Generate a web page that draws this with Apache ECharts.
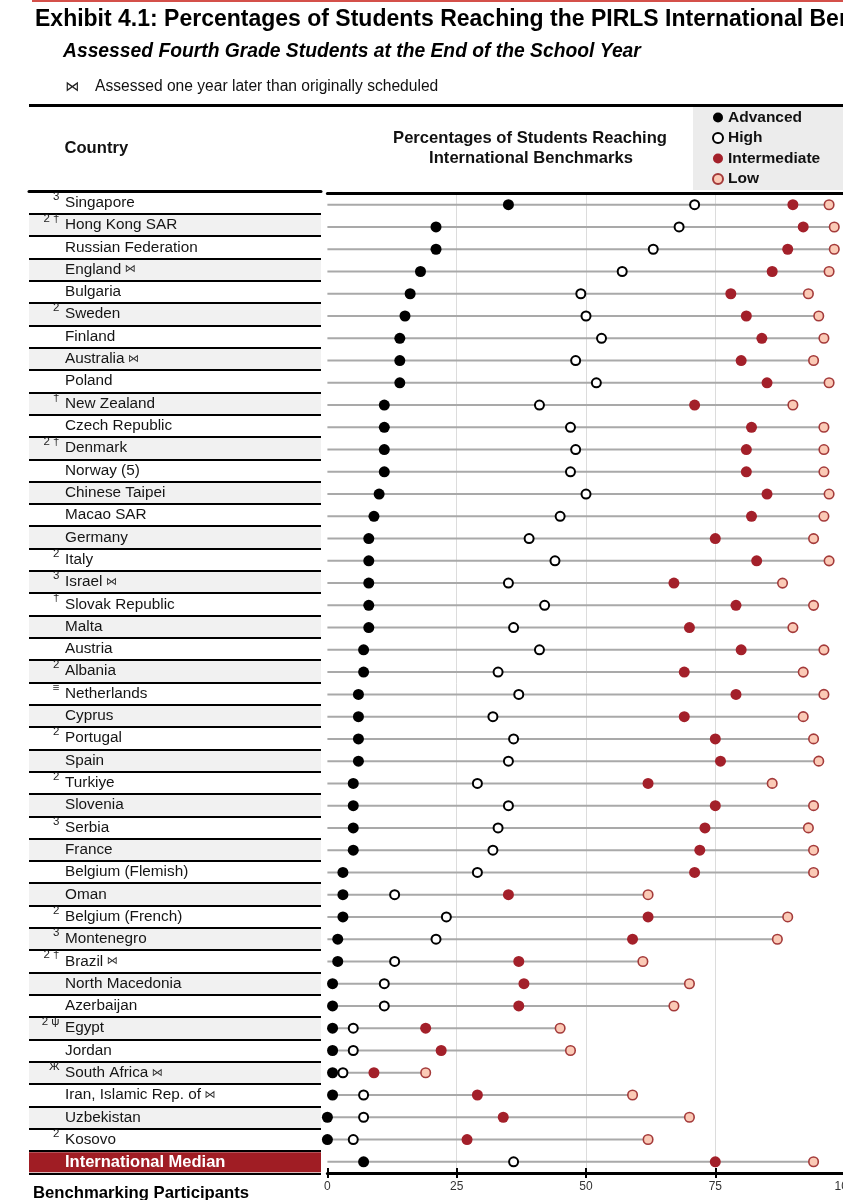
<!DOCTYPE html>
<html><head><meta charset="utf-8">
<script src="https://cdn.jsdelivr.net/npm/echarts@6/dist/echarts.min.js"></script>
<style>html,body{margin:0;padding:0;background:#fff}#c{width:843px;height:1200px}</style>
</head><body><div id="c"></div>
<script>
// ---- data ----
const categories = ['Singapore','Hong Kong SAR','Russian Federation','England','Bulgaria','Sweden','Finland','Australia','Poland','New Zealand','Czech Republic','Denmark','Norway (5)','Chinese Taipei','Macao SAR','Germany','Italy','Israel','Slovak Republic','Malta','Austria','Albania','Netherlands','Cyprus','Portugal','Spain','Turkiye','Slovenia','Serbia','France','Belgium (Flemish)','Oman','Belgium (French)','Montenegro','Brazil','North Macedonia','Azerbaijan','Egypt','Jordan','South Africa','Iran, Islamic Rep. of','Uzbekistan','Kosovo','International Median'];
const notes = ['3','2 †','','','','2','','','','†','','2 †','','','','','2','3','†','','','2','≡','','2','','2','','3','','','','2','3','2 †','','','2 ψ','','Ж','','','2',''];
const delayed = [0,0,0,1,0,0,0,1,0,0,0,0,0,0,0,0,0,1,0,0,0,0,0,0,0,0,0,0,0,0,0,0,0,0,1,0,0,0,0,1,1,0,0,0];
const advanced = [35,21,21,18,16,15,14,14,14,11,11,11,11,10,9,8,8,8,8,8,7,7,6,6,6,6,5,5,5,5,3,3,3,2,2,1,1,1,1,1,1,0,0,7];
const high = [71,68,63,57,49,50,53,48,52,41,47,48,47,50,45,39,44,35,42,36,41,33,37,32,36,35,29,35,33,32,29,13,23,21,13,11,11,5,5,3,7,7,5,36];
const intermediate = [90,92,89,86,78,81,84,80,85,71,82,81,81,85,82,75,83,67,79,70,80,69,79,69,75,76,62,75,73,72,71,35,62,59,37,38,37,19,22,9,29,34,27,75];
const low = [97,98,98,97,93,95,96,94,97,90,96,96,96,97,96,94,97,88,94,90,96,92,96,92,94,95,86,94,93,94,94,62,89,87,61,70,67,45,47,19,59,70,62,94];
const xTicks = [0, 25, 50, 75, 100];
const MEDIAN = 'International Median';

const F = '"Liberation Sans", Arial, Helvetica, sans-serif';
const FF = 'Liberation Sans, Arial, Helvetica, sans-serif';
const chart = echarts.init(document.getElementById('c'), null, {renderer: 'canvas'});

const pairs = arr => arr.map((v, i) => [v, categories[i]]);
const hidden = {axisLine: {show: false}, axisTick: {show: false}, axisLabel: {show: false}, splitLine: {show: false}};

const option = {
  animation: false,
  backgroundColor: '#ffffff',
  textStyle: {fontFamily: FF},
  grid: [
    {left: 29, top: 191.5, width: 292, height: 981.8, outerBoundsMode: 'none', containLabel: false},
    {left: 327.4, top: 193.6, width: 517.2, height: 979.3, outerBoundsMode: 'none', containLabel: false}
  ],
  legend: {
    data: ['Advanced', 'High', 'Intermediate', 'Low'],
    orient: 'vertical', left: 693, top: 107,
    padding: [1.5, 25, 2, 19],
    itemWidth: 10, itemHeight: 10, itemGap: 2.5,
    icon: 'circle', selectedMode: false,
    backgroundColor: '#ececec',
    textStyle: {fontFamily: FF, fontSize: 15.5, fontWeight: 'bold', color: '#111', lineHeight: 18}
  },
  xAxis: [
    Object.assign({gridIndex: 0, type: 'value', min: 0, max: 1, position: 'top'}, hidden,
      {axisLine: {show: true, onZero: false, lineStyle: {color: '#000', width: 3}}}),
    {gridIndex: 1, type: 'value', min: xTicks[0], max: xTicks[xTicks.length - 1], interval: 25, position: 'bottom',
      axisLine: {show: true, onZero: false, lineStyle: {color: '#000', width: 3}},
      axisTick: {show: true, length: 5, lineStyle: {color: '#000', width: 2}},
      axisLabel: {show: true, margin: 8, fontSize: 12, color: '#333', fontFamily: FF},
      splitLine: {show: true, showMinLine: false, lineStyle: {color: '#dcdcdc', width: 1}}},
    {gridIndex: 1, type: 'value', min: xTicks[0], max: xTicks[xTicks.length - 1], interval: 25, position: 'bottom',
      axisLine: {show: false, onZero: false},
      axisTick: {show: true, inside: true, length: 5, lineStyle: {color: '#000', width: 2}},
      axisLabel: {show: false}, splitLine: {show: false}},
    Object.assign({gridIndex: 1, type: 'value', min: 0, max: 100, position: 'top'}, hidden,
      {axisLine: {show: true, onZero: false, lineStyle: {color: '#000', width: 3}}})
  ],
  yAxis: [
    {gridIndex: 0, type: 'category', data: categories, inverse: true, position: 'left',
      axisLine: {show: false}, axisTick: {show: false}, axisLabel: {show: false},
      splitLine: {show: true, interval: 0, lineStyle: {color: '#000', width: 2}},
      splitArea: {show: true, interval: 0, areaStyle: {color: ['#ffffff', '#f1f1f1']}}},
    {gridIndex: 0, type: 'category', data: categories, inverse: true, position: 'left', z: 10,
      axisLine: {show: false}, axisTick: {show: false}, splitLine: {show: false},
      axisLabel: {show: true, inside: true, margin: 36, interval: 0,
        formatter: (v) => {
          const i = categories.indexOf(v);
          if (v === MEDIAN) return '{m|' + v + '}';
          return '{t|' + v + '}' + (delayed[i] ? '{b| ⋈}' : '');
        },
        rich: {
          t: {fontSize: 15.3, color: '#151515', fontFamily: FF, lineHeight: 20},
          b: {fontSize: 11, color: '#333', fontFamily: 'DejaVu Sans', lineHeight: 20},
          m: {fontSize: 16.5, color: '#ffffff', fontWeight: 'bold', fontFamily: FF, lineHeight: 20}
        }}},
    {gridIndex: 0, type: 'category', data: categories, inverse: true, position: 'left', offset: -32, z: 10,
      axisLine: {show: false}, axisTick: {show: false}, splitLine: {show: false},
      axisLabel: {show: true, margin: 1.5, interval: 0, fontSize: 11.5, color: '#222', fontFamily: FF,
        verticalAlign: 'bottom', lineHeight: 12,
        formatter: (v) => notes[categories.indexOf(v)] || ''}},
    Object.assign({gridIndex: 1, type: 'category', data: categories, inverse: true, position: 'left'}, hidden)
  ],
  series: [
    {type: 'bar', name: 'medianRow', xAxisIndex: 0, yAxisIndex: 0, silent: true, barWidth: 20, z: 1,
      data: categories.map(c => c === MEDIAN ? 1 : '-'), itemStyle: {color: '#a01d24'}},
    {type: 'bar', name: 'range', xAxisIndex: 1, yAxisIndex: 3, silent: true, barWidth: 2, z: 1,
      data: low, itemStyle: {color: '#a9a9a9'}},
    {type: 'scatter', name: 'Advanced', xAxisIndex: 1, yAxisIndex: 3, data: pairs(advanced), symbol: 'circle',
      symbolSize: 11, itemStyle: {color: '#000', opacity: 1}, z: 3},
    {type: 'scatter', name: 'High', xAxisIndex: 1, yAxisIndex: 3, data: pairs(high), symbol: 'circle',
      symbolSize: 9, itemStyle: {color: '#fff', borderColor: '#000', borderWidth: 2, opacity: 1}, z: 4},
    {type: 'scatter', name: 'Intermediate', xAxisIndex: 1, yAxisIndex: 3, data: pairs(intermediate), symbol: 'circle',
      symbolSize: 11, itemStyle: {color: '#a3202a', opacity: 1}, z: 5},
    {type: 'scatter', name: 'Low', xAxisIndex: 1, yAxisIndex: 3, data: pairs(low), symbol: 'circle',
      symbolSize: 9.5, itemStyle: {color: '#fbcab6', borderColor: '#a43a3a', borderWidth: 1.6, opacity: 1}, z: 6}
  ],
  graphic: [
    {type: 'rect', shape: {x: 32, y: 0, width: 811, height: 2}, style: {fill: '#d4504a'}},
    {type: 'text', x: 35, y: 20, style: {text: 'Exhibit 4.1: Percentages of Students Reaching the PIRLS International Benchmarks', font: 'bold 23px ' + F, fill: '#000', textVerticalAlign: 'middle', verticalAlign: 'middle'}},
    {type: 'text', x: 63, y: 52, style: {text: 'Assessed Fourth Grade Students at the End of the School Year', font: 'italic bold 19.3px ' + F, fill: '#000', textVerticalAlign: 'middle', verticalAlign: 'middle'}},
    {type: 'text', x: 65, y: 87, style: {text: '⋈', font: '14px "DejaVu Sans"', fill: '#222', textVerticalAlign: 'middle', verticalAlign: 'middle'}},
    {type: 'text', x: 95, y: 87, style: {text: 'Assessed one year later than originally scheduled', font: '15.6px ' + F, fill: '#111', textVerticalAlign: 'middle', verticalAlign: 'middle'}},
    {type: 'rect', shape: {x: 29, y: 104, width: 814, height: 3}, style: {fill: '#000'}},
    {type: 'text', x: 64.5, y: 148, style: {text: 'Country', font: 'bold 16.6px ' + F, fill: '#111', textVerticalAlign: 'middle', verticalAlign: 'middle'}},
    {type: 'text', x: 530, y: 138, style: {text: 'Percentages of Students Reaching', font: 'bold 16.6px ' + F, fill: '#111', textAlign: 'center', align: 'center', textVerticalAlign: 'middle', verticalAlign: 'middle'}},
    {type: 'text', x: 531, y: 158.5, style: {text: 'International Benchmarks', font: 'bold 16.6px ' + F, fill: '#111', textAlign: 'center', align: 'center', textVerticalAlign: 'middle', verticalAlign: 'middle'}},
    {type: 'text', x: 33, y: 1193, style: {text: 'Benchmarking Participants', font: 'bold 16.7px ' + F, fill: '#000', textVerticalAlign: 'middle', verticalAlign: 'middle'}}
  ]
};
chart.setOption(option);
</script></body></html>
